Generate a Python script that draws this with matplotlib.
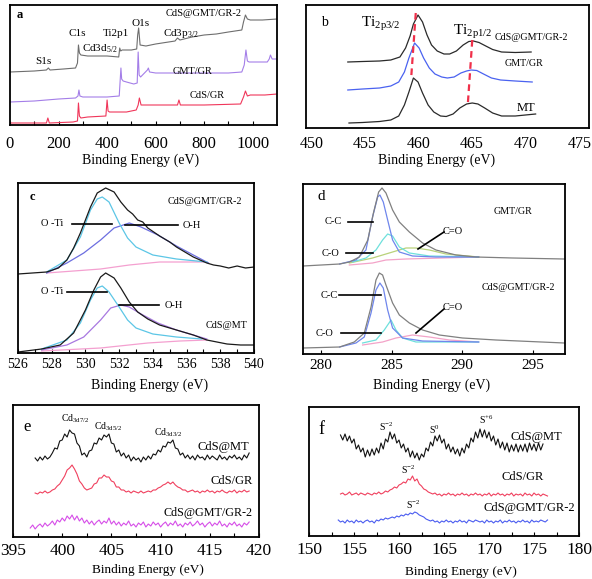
import numpy as np
import matplotlib
matplotlib.use("Agg")
import matplotlib.pyplot as plt
from matplotlib.lines import Line2D

plt.rcParams['font.family'] = ['Liberation Serif', 'DejaVu Serif']
plt.rcParams['mathtext.fontset'] = 'custom'
plt.rcParams['mathtext.rm'] = 'Liberation Serif'
plt.rcParams['mathtext.it'] = 'Liberation Serif:italic'
plt.rcParams['mathtext.bf'] = 'Liberation Serif:bold'

W, H = 592, 579

# ---------------- Panel a : survey ----------------
a_gray_E = [0, 100, 150, 158, 165, 220, 270, 278, 282, 286, 292, 320, 400, 448, 452, 456, 462, 500, 522, 526, 530, 536,
            560, 600, 680, 690, 700, 750, 800, 850, 900, 955, 962, 970, 978, 990, 1040, 1100]
a_gray_I = [53, 54, 55, 57, 55, 56, 57, 62, 80, 72, 70, 69, 69, 68, 77, 74, 75, 75, 76, 90, 97, 80,
            79, 81, 84, 87, 85, 88, 90, 91, 93, 95, 103, 110, 106, 105, 105, 106]
a_purple_E = [0, 100, 200, 270, 280, 284, 288, 300, 400, 450, 454, 457, 460, 466, 480, 510, 524, 528, 532, 538, 550,
              566, 570, 575, 600, 700, 800, 900, 955, 965, 972, 978, 985, 1000, 1060, 1068, 1073, 1080, 1100]
a_purple_I = [23, 24, 26, 27, 29, 35, 29, 28, 28, 29, 45, 57, 46, 44, 43, 41, 42, 73, 50, 48, 51,
              55, 57, 53, 52, 52, 52, 52, 53, 60, 75, 64, 63, 63, 63, 66, 70, 66, 66]
a_red_E = [0, 100, 150, 156, 162, 260, 278, 282, 286, 292, 320, 395, 400, 404, 410, 480, 520, 528, 533, 540, 560,
           690, 696, 702, 800, 950, 962, 970, 978, 990, 1050, 1100]
a_red_I = [2, 2, 2, 7, 2, 3, 4, 22, 9, 7, 8, 9, 25, 14, 13, 13, 15, 20, 27, 20, 20,
           20, 25, 20, 20, 21, 28, 34, 29, 30, 30, 31]
a_ticks = [0, 200, 400, 600, 800, 1000]

# ---------------- Panel b : Ti 2p ----------------
b_top_E = [453.40, 454.78, 456.36, 457.41, 458.26, 458.79, 459.21, 459.52, 459.95, 460.37, 460.79, 461.21, 461.74,
           462.37, 462.90, 463.53, 464.16, 464.69, 465.11, 465.64, 466.27, 466.91, 467.75, 469.02, 470.50]
b_top_y = [62, 61.5, 61, 60, 57, 48, 36, 24, 15, 22, 35, 45, 51, 54, 54,
           51, 45, 41.5, 41, 42.5, 46, 49.5, 52, 52.5, 52]
b_blue_E = [453.40, 454.78, 456.36, 457.41, 458.15, 458.68, 459.10, 459.63, 460.05, 460.47, 461.00, 461.53, 462.16,
            462.69, 463.32, 463.95, 464.48, 464.90, 465.43, 466.06, 466.80, 467.65, 469.02, 470.60]
b_blue_y = [90, 89, 88, 86, 82, 72, 58, 43, 48, 58, 68, 74, 77, 78, 77,
            73, 71, 70, 70.5, 74, 78, 80, 81, 82]
b_mt_E = [453.51, 454.78, 456.36, 457.41, 458.15, 458.68, 459.10, 459.52, 459.95, 460.37, 460.89, 461.42, 462.05,
          462.58, 463.22, 463.85, 464.48, 465.01, 465.54, 466.17, 466.91, 467.75, 469.02, 470.92]
b_mt_y = [123, 122.5, 121.5, 120, 116, 105, 92, 78, 82, 93, 105, 112, 116, 116.5, 114,
          108, 104, 103, 104, 108, 113, 116, 116, 114]
b_guide1_E = [459.74, 459.31]
b_guide2_E = [465.01, 464.59]
b_guide1_y = [13, 78]
b_guide2_y = [40, 105]
b_ticks = [450, 455, 460, 465, 470, 475]

# ---------------- Panel c : O 1s ----------------
c_env1_E = [526.0, 527.7, 528.4, 528.9, 529.3, 529.7, 530.0, 530.3, 530.7, 531.2, 531.7, 532.1, 532.5, 532.8, 533.1,
            533.4, 533.7, 534.4, 535.0, 535.4, 536.0, 536.4, 537.2, 537.6, 538.0, 538.5, 539.0, 539.5, 540.0]
c_env1_I = [79, 81, 85, 93, 105, 120, 133, 146, 160, 165, 161, 151, 143, 139, 133,
            131, 125, 117, 111, 106, 100, 96, 90, 88, 87, 85, 87, 85, 86]
c_cyan1_E = [527.7, 528.9, 529.7, 530.3, 530.7, 531.0, 531.4, 532.0, 532.5, 533.0, 534.0, 535.4, 537.2]
c_cyan1_I = [81, 93, 116, 143, 154, 156, 151, 130, 115, 106, 98, 94, 91]
c_blue1_E = [527.7, 528.9, 529.9, 530.9, 531.7, 532.6, 533.3, 534.3, 535.4, 536.4, 537.3]
c_blue1_I = [80, 90, 100, 113, 125, 130, 126, 118, 107, 98, 90]
c_pink1_E = [527.7, 530.9, 532.6, 534.4, 537.2]
c_pink1_I = [80, 84, 88, 91, 91]
c_env2_E = [526.0, 527.4, 528.5, 529.3, 530.0, 530.5, 530.9, 531.2, 531.7, 532.1, 532.6, 533.1, 533.7, 534.4, 535.4,
            536.4, 537.2, 538.4, 539.2, 540.0]
c_env2_I = [1, 4, 8, 20, 43, 63, 76, 80, 75, 65, 51, 41, 34, 28, 23, 18, 13, 9, 8, 8]
c_cyan2_E = [527.4, 528.9, 529.7, 530.3, 530.7, 531.0, 531.4, 532.0, 532.5, 533.0, 534.0, 535.4, 536.9]
c_cyan2_I = [4, 13, 30, 53, 65, 67, 61, 46, 33, 25, 19, 16, 14]
c_purple2_E = [527.4, 528.9, 529.9, 530.9, 531.5, 532.1, 532.6, 533.3, 534.3, 535.4, 536.4, 537.2]
c_purple2_I = [3, 8, 16, 33, 45, 48, 46, 39, 30, 23, 18, 14]
c_pink2_E = [527.4, 530.9, 533.7, 535.6, 537.2]
c_pink2_I = [2, 5, 10, 12, 13]
c_ticks = [526, 528, 530, 532, 534, 536, 538, 540]

# ---------------- Panel d : C 1s ----------------
d_env1_E = [278.7, 281.3, 282.0, 282.7, 283.3, 283.7, 284.07, 284.31, 284.59, 285.06, 285.54, 286.25, 287.19,
            288.14, 289.56, 290.98, 293.58, 297.25]
d_env1_I = [88, 90, 92, 97, 114, 141, 162, 166, 161, 144, 132, 122, 111, 104, 99, 97, 96, 95]
d_blue1_E = [281.3, 282.46, 283.17, 283.64, 284.0, 284.16, 284.40, 284.71, 285.06, 285.54, 286.48, 288.14, 291.17]
d_blue1_I = [90, 94, 104, 137, 157, 159, 152, 134, 114, 102, 98, 97, 97]
d_cyan1_E = [282.22, 283.17, 283.88, 284.35, 284.71, 285.06, 285.54, 286.25, 287.67, 291.17]
d_cyan1_I = [92, 96, 104, 114, 120, 118, 107, 101, 98, 97]
d_green1_E = [281.99, 283.64, 285.06, 286.01, 286.72, 287.67, 288.85, 291.17]
d_green1_I = [91, 96, 102, 106, 106, 104, 100, 97]
d_pink1_E = [281.99, 283.64, 284.59, 286.01, 291.17]
d_pink1_I = [89, 91, 94, 95, 97]
d_env2_E = [278.7, 281.3, 282.34, 283.05, 283.53, 283.88, 284.12, 284.35, 284.59, 285.06, 285.54, 286.25, 287.19,
            288.38, 290.03, 292.4, 297.25]
d_env2_I = [6, 7, 12, 21, 47, 74, 81, 79, 69, 51, 39, 31, 24, 19, 16, 14, 11]
d_blue2_E = [281.3, 282.46, 283.05, 283.53, 283.88, 284.16, 284.40, 284.71, 285.06, 285.77, 287.19, 291.17]
d_blue2_I = [7, 11, 17, 41, 64, 71, 66, 44, 26, 16, 13, 12]
d_cyan2_E = [282.93, 283.88, 284.47, 284.95, 285.30, 285.77, 286.72, 291.17]
d_cyan2_I = [11, 14, 24, 34, 24, 16, 12, 12]
d_pink2_E = [282.93, 284.35, 285.30, 286.48, 287.67, 289.09, 291.17]
d_pink2_I = [9, 12, 16, 19, 17, 14, 12]
d_ticks = [280, 285, 290, 295]

# ---------------- Panel e : Cd 3d ----------------
e_step = 0.25
e_black_start = 397.25
e_black_I = [79, 76, 80, 77, 81, 78, 80, 84, 89, 88, 96, 97, 103, 100, 107, 104, 103, 94, 91, 82,
             84, 80, 86, 87, 94, 93, 99, 97, 102, 100, 103, 94, 93, 85, 87, 81, 84, 79, 82, 76,
             80, 77, 79, 75, 80, 77, 81, 78, 83, 82, 87, 85, 91, 90, 95, 94, 97, 89, 88, 82,
             84, 79, 82, 78, 81, 77, 82, 79, 80, 77, 82, 78, 81, 79, 77, 82, 78, 80, 77, 81,
             79, 82, 78, 80, 77, 82, 79, 84]
e_red_start = 397.25
e_red_I = [44, 43, 45, 44, 46, 44, 45, 47, 48, 51, 53, 57, 61, 67, 69, 72, 68, 63, 56, 53,
           49, 47, 48, 49, 53, 54, 59, 59, 62, 60, 60, 56, 55, 50, 50, 47, 47, 45, 46, 44,
           46, 45, 44, 46, 44, 45, 46, 45, 47, 47, 49, 50, 52, 53, 55, 53, 55, 52, 50, 49,
           47, 47, 45, 46, 47, 45, 46, 44, 46, 45, 47, 45, 46, 44, 46, 45, 47, 45, 44, 46,
           45, 47, 44, 46, 45, 47, 45, 46]
e_mag_start = 396.75
e_mag_I = [9, 12, 8, 11, 13, 10, 14, 11, 13, 16, 12, 17, 15, 19, 16, 21, 18, 22, 17, 21,
           16, 19, 14, 17, 13, 16, 12, 15, 17, 13, 16, 14, 19, 13, 16, 12, 15, 11, 14, 12,
           16, 11, 13, 10, 14, 12, 15, 10, 13, 11, 15, 12, 14, 10, 13, 15, 11, 14, 12, 16,
           11, 13, 10, 14, 12, 15, 11, 13, 16, 12, 14, 10, 13, 15, 11, 14, 12, 16, 11, 13,
           10, 14, 12, 15, 11, 13, 10, 14, 12, 15]
e_ticks = [395, 400, 405, 410, 415, 420]

# ---------------- Panel f : S 2p ----------------
f_step = 0.25
f_black_start = 153.5
f_black_I = [101, 96, 102, 95, 100, 93, 97, 87, 91, 84, 88, 79, 86, 80, 87, 81, 88, 83, 93, 87,
             97, 94, 104, 97, 102, 93, 96, 88, 92, 84, 88, 79, 85, 78, 83, 76, 82, 79, 88, 85,
             94, 90, 100, 95, 101, 93, 97, 87, 92, 84, 89, 82, 87, 80, 88, 83, 92, 88, 98, 94,
             104, 98, 107, 99, 106, 98, 104, 95, 100, 91, 97, 88, 94, 86, 93, 84, 91, 85, 92, 84,
             91, 85, 92, 84, 93, 86, 92, 85, 93, 86, 92]
f_red_start = 153.5
f_red_I = [42, 43, 41, 42, 44, 41, 42, 43, 41, 43, 42, 41, 43, 42, 41, 43, 42, 44, 42, 43,
           45, 44, 46, 47, 49, 48, 51, 52, 54, 53, 57, 56, 60, 55, 57, 52, 50, 47, 46, 44,
           43, 42, 43, 41, 42, 40, 42, 41, 43, 41, 42, 40, 42, 41, 43, 41, 42, 40, 42, 41,
           43, 41, 42, 40, 42, 41, 43, 40, 42, 41, 43, 41, 42, 40, 42, 41, 43, 40, 42, 41,
           42, 40, 43, 41, 42, 40, 43, 41, 42, 40, 42, 41, 40]
f_blue_start = 153.25
f_blue_I = [16, 14, 15, 13, 16, 14, 15, 13, 16, 14, 15, 13, 15, 16, 14, 15, 13, 16, 15, 17,
            16, 18, 17, 18, 19, 18, 20, 19, 21, 20, 22, 21, 23, 22, 24, 23, 21, 20, 19, 17,
            16, 15, 16, 14, 15, 13, 15, 14, 16, 14, 15, 13, 15, 14, 16, 14, 15, 13, 16, 15,
            14, 16, 15, 14, 15, 13, 16, 14, 15, 13, 15, 14, 16, 13, 15, 14, 16, 14, 15, 13,
            15, 14, 16, 14, 15, 13, 16, 14, 15, 14, 16, 15, 14, 16]
f_ticks = [150, 155, 160, 165, 170, 175, 180]

# ================= drawing =================
fig = plt.figure(figsize=(W / 100, H / 100), dpi=100)


def mkax(l, t, r, b, xlim, ticks, minor, tsize, pad):
    ax = fig.add_axes([l / W, 1 - b / H, (r - l) / W, (b - t) / H])
    ax.set_xlim(*xlim)
    ax.set_ylim(0, b - t)
    ax.set_yticks([])
    ax.set_xticks(ticks)
    ax.set_xticklabels([str(v) for v in ticks])
    if minor is not None:
        ax.set_xticks(minor, minor=True)
    ax.tick_params(axis='x', which='both', direction='in', length=3, width=0.8,
                   labelsize=tsize, pad=pad)
    for s in ax.spines.values():
        s.set_linewidth(1.3)
    return ax


def ptxt(x, y, s, size=8, **kw):
    kw.setdefault('ha', 'center')
    kw.setdefault('va', 'center')
    fig.text(x / W, 1 - y / H, s, fontsize=size, **kw)


def pline(x0, y0, x1, y1, lw=1.2):
    fig.add_artist(Line2D([x0 / W, x1 / W], [1 - y0 / H, 1 - y1 / H], transform=fig.transFigure,
                          color='black', lw=lw))


# ---- a ----
axa = mkax(10, 5, 277, 125, (0, 1100), a_ticks, list(range(100, 1100, 200)), 12, 8)
axa.plot(a_gray_E, a_gray_I, color='#6e6e6e', lw=0.8)
axa.plot(a_purple_E, a_purple_I, color='#a47ee8', lw=0.8)
axa.plot(a_red_E, a_red_I, color='#f0365a', lw=0.8)
ptxt(20, 15, 'a', 9, fontweight='bold')
ptxt(43, 61, 'S1s', 8)
ptxt(77, 33, 'C1s', 8)
ptxt(100, 49, r'Cd3d$_{\mathrm{5/2}}$', 8)
ptxt(116, 34, 'Ti2p1', 8)
ptxt(141, 24, 'O1s', 8)
ptxt(181, 34, r'Cd3p$_{\mathrm{3/2}}$', 8)
ptxt(204, 14, 'CdS@GMT/GR-2', 7.5)
ptxt(193, 71, 'GMT/GR', 7.5)
ptxt(207, 96, 'CdS/GR', 7.5)
ptxt(141, 160, 'Binding Energy (eV)', 10)

# ---- b ----
axb = mkax(306, 5, 589, 128, (449.5, 475.9), b_ticks, None, 11.5, 5.5)
axb.tick_params(axis='x', which='both', length=0)
axb.plot(b_top_E, [128 - v for v in b_top_y], color='#2a2a2a', lw=0.9)
axb.plot(b_blue_E, [128 - v for v in b_blue_y], color='#4a62f0', lw=0.9)
axb.plot(b_mt_E, [128 - v for v in b_mt_y], color='#2a2a2a', lw=0.9)
axb.plot(b_guide1_E, [128 - v for v in b_guide1_y], color='#f0304a', lw=1.6, ls=(0, (3, 2)))
axb.plot(b_guide2_E, [128 - v for v in b_guide2_y], color='#f0304a', lw=1.6, ls=(0, (3, 2)))
ptxt(324, 23, 'b', 10)
ptxt(381, 24, r'Ti$_{\mathrm{2p3/2}}$', 11)
ptxt(473, 32, r'Ti$_{\mathrm{2p1/2}}$', 11)
ptxt(531, 37, 'CdS@GMT/GR-2', 7.2)
ptxt(524, 63, 'GMT/GR', 7.2)
ptxt(526, 108, 'MT', 9)
ptxt(437, 160, 'Binding Energy (eV)', 10)

# ---- c ----
axc = mkax(18, 183, 254, 353, (526, 540), c_ticks, list(range(527, 540, 2)), 10, 3.4)
axc.plot(c_pink1_E, c_pink1_I, color='#f4a0d0', lw=0.9)
axc.plot(c_blue1_E, c_blue1_I, color='#6c6ee0', lw=0.9)
axc.plot(c_cyan1_E, c_cyan1_I, color='#5cc6e6', lw=0.9)
axc.plot(c_env1_E, c_env1_I, color='#1a1a1a', lw=0.9)
axc.plot(c_pink2_E, c_pink2_I, color='#f4a0d0', lw=0.9)
axc.plot(c_purple2_E, c_purple2_I, color='#a878e0', lw=0.9)
axc.plot(c_cyan2_E, c_cyan2_I, color='#5cc6e6', lw=0.9)
axc.plot(c_env2_E, c_env2_I, color='#1a1a1a', lw=0.9)
ptxt(32, 197, 'c', 9, fontweight='bold')
ptxt(205, 202, 'CdS@GMT/GR-2', 7.3)
ptxt(52, 224, 'O -Ti', 7.5)
pline(72, 224, 112, 224)
ptxt(192, 225, 'O-H', 7.5)
pline(125, 225, 178, 225)
ptxt(52, 292, 'O -Ti', 7.5)
pline(67, 292, 107, 292)
ptxt(174, 305, 'O-H', 7.5)
pline(119, 305, 159, 305)
ptxt(227, 326, 'CdS@MT', 7.3)
ptxt(150, 385, 'Binding Energy (eV)', 10)

# ---- d ----
axd = mkax(303, 184, 565, 354, (278.7, 297.3), d_ticks, None, 11, 3.4)
axd.plot(d_pink1_E, d_pink1_I, color='#f3a3c8', lw=0.9)
axd.plot(d_green1_E, d_green1_I, color='#b9d27a', lw=0.9)
axd.plot(d_cyan1_E, d_cyan1_I, color='#6ee0dc', lw=0.9)
axd.plot(d_blue1_E, d_blue1_I, color='#6f86ec', lw=0.9)
axd.plot(d_env1_E, d_env1_I, color='#808080', lw=0.9)
axd.plot(d_pink2_E, d_pink2_I, color='#f3a3c8', lw=0.9)
axd.plot(d_cyan2_E, d_cyan2_I, color='#6ee0dc', lw=0.9)
axd.plot(d_blue2_E, d_blue2_I, color='#6f86ec', lw=0.9)
axd.plot(d_env2_E, d_env2_I, color='#808080', lw=0.9)
ptxt(321, 197, 'd', 11)
ptxt(513, 212, 'GMT/GR', 7.2)
ptxt(333, 222, 'C-C', 7.5)
pline(348, 222, 373, 222)
ptxt(331, 253, 'C-O', 7.5)
pline(346, 253, 373, 253)
ptxt(453, 231, 'C=O', 7.5)
pline(444, 232, 418, 249)
ptxt(518, 287, 'CdS@GMT/GR-2', 7.2)
ptxt(329, 295, 'C-C', 7.5)
pline(339, 295, 381, 295)
ptxt(324, 333, 'C-O', 7.5)
pline(341, 333, 381, 333)
ptxt(453, 308, 'C=O', 7.5)
pline(444, 309, 416, 333)
ptxt(432, 385, 'Binding Energy (eV)', 10)

# ---- e ----
axe = mkax(13, 405, 259, 537, (395, 420), e_ticks, [397.5, 402.5, 407.5, 412.5, 417.5], 12.5, 4.2)
xe_black = e_black_start + e_step * np.arange(len(e_black_I))
xe_red = e_red_start + e_step * np.arange(len(e_red_I))
xe_mag = e_mag_start + e_step * np.arange(len(e_mag_I))
axe.plot(xe_black, e_black_I, color='#111111', lw=0.8)
axe.plot(xe_red, e_red_I, color='#f0405e', lw=0.8)
axe.plot(xe_mag, e_mag_I, color='#d64ee8', lw=0.8)
ptxt(27, 427, 'e', 12)
ptxt(75, 419, r'Cd$_{\mathrm{3d7/2}}$', 7)
ptxt(108, 427, r'Cd$_{\mathrm{3d5/2}}$', 7)
ptxt(168, 433, r'Cd$_{\mathrm{3d3/2}}$', 7)
ptxt(223, 447, 'CdS@MT', 9)
ptxt(232, 481, 'CdS/GR', 9)
ptxt(208, 513, 'CdS@GMT/GR-2', 8.7)
ptxt(148, 570, 'Binding Energy (eV)', 9.5)

# ---- f ----
axf = mkax(309, 407, 579, 536, (150, 180), f_ticks, [152.5, 157.5, 162.5, 167.5, 172.5, 177.5], 12.5, 4.5)
xf_black = f_black_start + f_step * np.arange(len(f_black_I))
xf_red = f_red_start + f_step * np.arange(len(f_red_I))
xf_blue = f_blue_start + f_step * np.arange(len(f_blue_I))
axf.plot(xf_black, f_black_I, color='#111111', lw=0.8)
axf.plot(xf_red, f_red_I, color='#f0405e', lw=0.8)
axf.plot(xf_blue, f_blue_I, color='#4a5cf0', lw=0.8)
ptxt(321, 430, 'f', 13)
ptxt(386, 427, r'S$^{\mathrm{-2}}$', 7)
ptxt(434, 430, r'S$^{\mathrm{0}}$', 7)
ptxt(486, 420, r'S$^{\mathrm{+6}}$', 7)
ptxt(536, 437, 'CdS@MT', 9)
ptxt(408, 470, r'S$^{\mathrm{-2}}$', 7)
ptxt(523, 477, 'CdS/GR', 9)
ptxt(413, 505, r'S$^{\mathrm{-2}}$', 7)
ptxt(529, 508, 'CdS@GMT/GR-2', 9)
ptxt(461, 572, 'Binding Energy (eV)', 9.5)

fig.savefig('out.png', dpi=100)
